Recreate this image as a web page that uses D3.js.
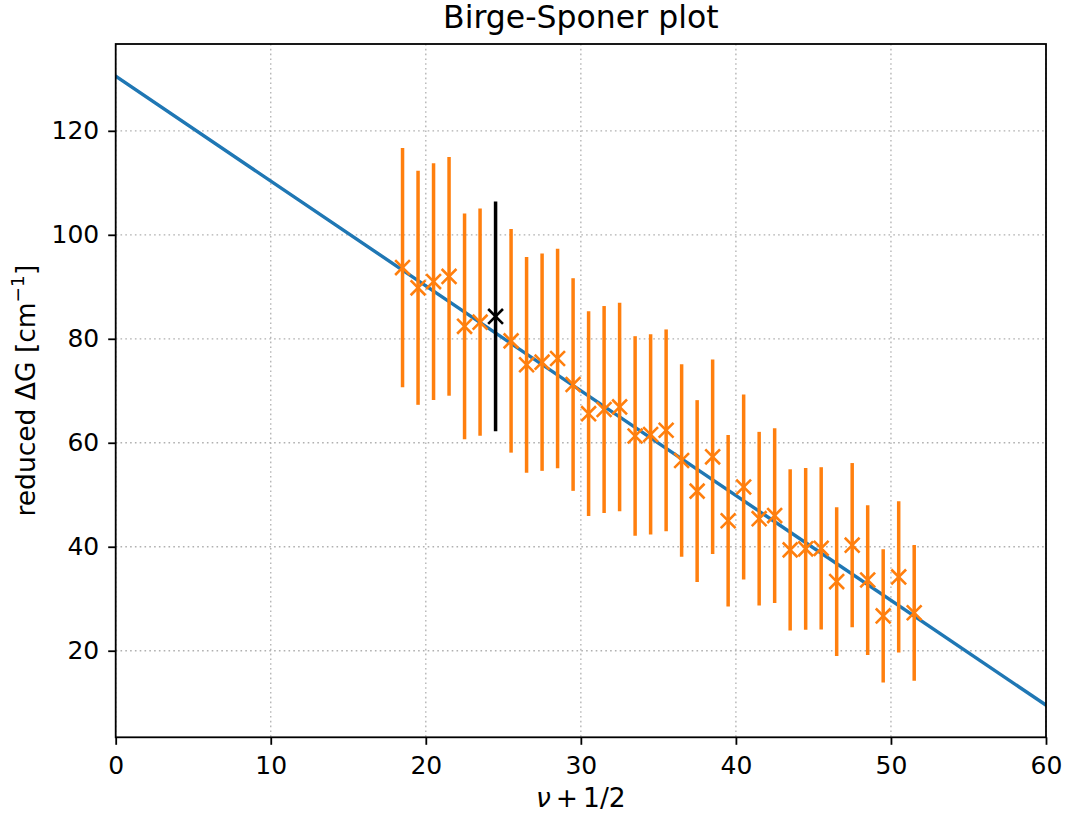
<!DOCTYPE html>
<html>
<head>
<meta charset="utf-8">
<script src="https://cdn.jsdelivr.net/npm/d3@7"></script>
<style>
  html, body { margin: 0; padding: 0; background: #fff; }
  svg { display: block; font-family: "DejaVu Sans", sans-serif; }
</style>
</head>
<body>
<svg id="chart" width="1065" height="819"></svg>
<script>
// Vibrational quantum number + 1/2
const vHalf = [18.5, 19.5, 20.5, 21.5, 22.5, 23.5, 24.5, 25.5, 26.5, 27.5, 28.5, 29.5,
  30.5, 31.5, 32.5, 33.5, 34.5, 35.5, 36.5, 37.5, 38.5, 39.5, 40.5, 41.5, 42.5,
  43.5, 44.5, 45.5, 46.5, 47.5, 48.5, 49.5, 50.5, 51.5];
// Reduced ΔG values (cm^-1)
const deltaG = [93.7, 89.8, 91.0, 92.0, 82.4, 83.2, 84.3, 79.6, 75.0, 75.5, 76.2, 71.2,
  65.6, 66.4, 66.9, 61.3, 61.6, 62.4, 56.6, 50.7, 57.3, 45.0, 51.5, 45.4, 46.0,
  39.4, 39.6, 39.7, 33.3, 40.3, 33.6, 26.7, 34.2, 27.3];
// Symmetric uncertainties
const deltaGErr = [23.0, 22.5, 22.75, 22.95, 21.7, 21.85, 22.1, 21.5, 20.75, 20.9, 21.1, 20.45,
  19.7, 19.9, 20.05, 19.2, 19.25, 19.4, 18.5, 17.5, 18.7, 16.5, 17.8, 16.7, 16.8,
  15.5, 15.55, 15.6, 14.3, 15.8, 14.4, 12.8, 14.55, 13.05];
// Point excluded from the fit
const excludedV = [24.5];
// Linear fit: ΔG = intercept + slope * (v + 1/2)
const fitIntercept = 130.5;
const fitSlope = -2.016;
const fitRange = [0, 60];

const xTicks = [0, 10, 20, 30, 40, 50, 60];
const yTicks = [20, 40, 60, 80, 100, 120];

const svg = d3.select("#chart");
const m = { left: 115.7, top: 44, right: 1046, bottom: 737.3 };

const x = d3.scaleLinear().domain([0, 60]).range([m.left, m.right]);
const y = d3.scaleLinear().domain([3.35, 136.7]).range([m.bottom, m.top]);

const C0 = "#1f77b4", C1 = "#ff7f0e";

svg.append("defs").append("clipPath").attr("id", "plotclip")
  .append("rect").attr("x", m.left).attr("y", m.top)
  .attr("width", m.right - m.left).attr("height", m.bottom - m.top);

// Grid
const grid = svg.append("g").attr("stroke", "#b0b0b0").attr("stroke-width", 1.3)
  .attr("stroke-dasharray", "1.6,3.2");
grid.selectAll(".gx").data(xTicks).join("line")
  .attr("x1", d => x(d)).attr("x2", d => x(d)).attr("y1", m.top).attr("y2", m.bottom);
grid.selectAll(".gy").data(yTicks).join("line")
  .attr("y1", d => y(d)).attr("y2", d => y(d)).attr("x1", m.left).attr("x2", m.right);

const plot = svg.append("g").attr("clip-path", "url(#plotclip)");

// Fit line
plot.append("line")
  .attr("x1", x(fitRange[0])).attr("y1", y(fitIntercept + fitSlope * fitRange[0]))
  .attr("x2", x(fitRange[1])).attr("y2", y(fitIntercept + fitSlope * fitRange[1]))
  .attr("stroke", C0).attr("stroke-width", 3.4).attr("stroke-linecap", "square");

const pts = vHalf.map((v, i) => ({ v, g: deltaG[i], e: deltaGErr[i], out: excludedV.includes(v) }));

function drawSeries(data, color) {
  const g = plot.append("g");
  g.selectAll("line.eb").data(data).join("line").attr("class", "eb")
    .attr("x1", d => x(d.v)).attr("x2", d => x(d.v))
    .attr("y1", d => y(d.g - d.e)).attr("y2", d => y(d.g + d.e))
    .attr("stroke", color).attr("stroke-width", 3.5);
  const s = 7.4;
  g.selectAll("path.mk").data(data).join("path").attr("class", "mk")
    .attr("d", d => {
      const cx = x(d.v), cy = y(d.g);
      return `M${cx - s},${cy - s}L${cx + s},${cy + s}M${cx - s},${cy + s}L${cx + s},${cy - s}`;
    })
    .attr("stroke", color).attr("stroke-width", 2.6).attr("fill", "none");
}
drawSeries(pts.filter(d => !d.out), C1);
drawSeries(pts.filter(d => d.out), "#000");

// Axes
const tickFont = 25;
const labelFont = 26.5;
const xAxis = d3.axisBottom(x).tickValues(xTicks).tickSize(7.5).tickPadding(11).tickFormat(d3.format("d"));
const yAxis = d3.axisLeft(y).tickValues(yTicks).tickSize(7.5).tickPadding(9).tickFormat(d3.format("d"));

const gx = svg.append("g").attr("transform", `translate(0,${m.bottom})`).call(xAxis);
const gy = svg.append("g").attr("transform", `translate(${m.left},0)`).call(yAxis);
[gx, gy].forEach(g => {
  g.select(".domain").remove();
  g.selectAll(".tick line").attr("stroke", "#000").attr("stroke-width", 1.8);
  g.selectAll(".tick text").attr("fill", "#000").attr("font-size", tickFont)
    .attr("font-family", "DejaVu Sans, sans-serif");
});

// Frame
svg.append("rect").attr("x", m.left).attr("y", m.top)
  .attr("width", m.right - m.left).attr("height", m.bottom - m.top)
  .attr("fill", "none").attr("stroke", "#000").attr("stroke-width", 1.8);

// Title
svg.append("text").attr("x", (m.left + m.right) / 2).attr("y", 28)
  .attr("text-anchor", "middle").attr("font-size", 31.5).attr("fill", "#000")
  .text("Birge-Sponer plot");

// X label (math-style spacing around the plus sign)
const xl = svg.append("text").attr("x", (m.left + m.right) / 2).attr("y", 807)
  .attr("text-anchor", "middle").attr("font-size", labelFont).attr("fill", "#000");
xl.append("tspan").attr("font-style", "italic").text("ν");
xl.append("tspan").attr("dx", 5).text("+");
xl.append("tspan").attr("dx", 5).text("1/2");

// Y label
const yl = svg.append("text")
  .attr("transform", `translate(35,${(m.top + m.bottom) / 2}) rotate(-90)`)
  .attr("text-anchor", "middle").attr("font-size", labelFont).attr("fill", "#000");
yl.append("tspan").text("reduced ΔG [cm");
yl.append("tspan").attr("font-size", 18.5).attr("dy", -11).text("−1");
yl.append("tspan").attr("dy", 11).text("]");
</script>
</body>
</html>
